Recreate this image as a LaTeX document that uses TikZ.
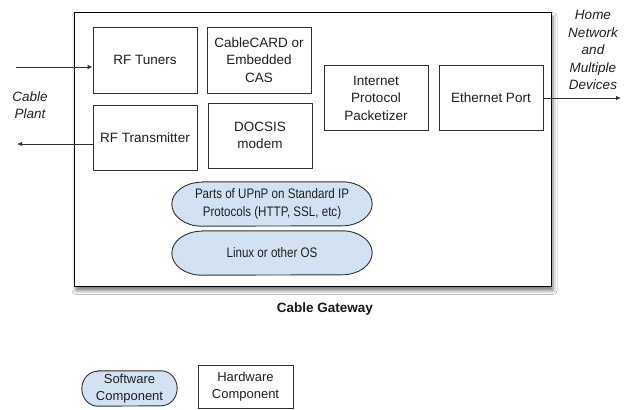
\documentclass[tikz,border=0pt]{standalone}
\usepackage{fontspec}
\setmainfont{Liberation Sans}
\newfontfamily\condsans[FakeStretch=0.84]{Liberation Sans}
\usetikzlibrary{arrows.meta,shadows.blur}
\pgfdeclarelayer{back}
\pgfdeclarelayer{mid}
\pgfsetlayers{back,mid,main}
\definecolor{swfill}{HTML}{D2E2F2}
\definecolor{edge}{HTML}{303030}
\tikzset{
  txt/.style={font=\fontsize{13.5}{17.5}\selectfont, align=center, text=black!88},
  hw/.style={txt, draw=edge, line width=0.9pt, inner sep=0pt},
  sw/.style={font=\condsans\fontsize{13.8}{18}\selectfont, align=center, text=black!88, inner sep=0pt},
  lab/.style={font=\fontsize{13.5}{17.5}\selectfont\itshape, align=center, text=black!88},
  arr/.style={draw=edge, line width=0.9pt, -{Latex[length=5pt,width=4.5pt]}},
}
\newcommand{\swblob}[3]{%
  \begin{pgfonlayer}{mid}
  \draw[draw=edge, line width=0.9pt, fill=swfill]
    ([xshift=#2pt]#1.north west) -- ([xshift=-#2pt]#1.north east)
    arc[start angle=90, end angle=-90, x radius=#2pt, y radius=#3pt]
    -- ([xshift=#2pt]#1.south west)
    arc[start angle=270, end angle=90, x radius=#2pt, y radius=#3pt]
    -- cycle;
  \end{pgfonlayer}}
\begin{document}
\begin{tikzpicture}[x=1pt, y=-1pt]
\useasboundingbox (0,0) rectangle (633,410);

% main gateway box
\begin{pgfonlayer}{back}
\fill[white] (0,0) rectangle (633,410);
\draw[draw=black, line width=0.8pt, fill=white,
      blur shadow={shadow xshift=2pt, shadow yshift=-4.5pt, shadow blur radius=4pt, shadow opacity=55}]
  (74,12) rectangle (551,286);
\end{pgfonlayer}
\node[font=\fontsize{13.5}{15}\selectfont\bfseries, text=black!90] (gw) at (325,309) {Cable Gateway};

% hardware boxes
\node[hw, minimum width=104pt, minimum height=66pt] (tuners) at (145,60) {RF Tuners};
\node[hw, minimum width=104pt, minimum height=66pt] (card) at (259,60) {CableCARD or\\Embedded\\CAS};
\node[hw, minimum width=104pt, minimum height=65pt] (trans) at (145,137.5) {RF Transmitter};
\node[hw, minimum width=104pt, minimum height=65pt] (docsis) at (260,135.5) {DOCSIS\\modem};
\node[hw, minimum width=104pt, minimum height=65pt] (ipp) at (376,98) {Internet\\Protocol\\Packetizer};
\node[hw, minimum width=104pt, minimum height=65pt] (eth) at (491,98) {Ethernet Port};

% software components
\node[sw, minimum width=200pt, minimum height=44pt] (upnp) at (272,204) {Parts of UPnP on Standard IP\\Protocols (HTTP, SSL, etc)};
\swblob{upnp}{30}{22}
\node[sw, minimum width=200pt, minimum height=44pt] (linux) at (272,253) {Linux or other OS};
\swblob{linux}{30}{22}

% outside labels and connectors
\node[lab] (plant) at (30,105) {Cable\\Plant};
\node[lab] (home) at (593,50) {Home\\Network\\and\\Multiple\\Devices};
\coordinate (cin) at (16,67);
\coordinate (cout) at (17,144);
\coordinate (hout) at (621,98);
\draw[arr] (cin) -- (cin -| tuners.west);
\draw[arr] (trans.west |- cout) -- (cout);
\draw[arr] (eth.east) -- (hout);

% legend
\node[sw, font=\fontsize{13}{17}\selectfont, minimum width=95pt, minimum height=35pt] (legsw) at (129.5,388.5) {Software\\Component};
\swblob{legsw}{16}{17.5}
\node[hw, font=\fontsize{13}{17}\selectfont, minimum width=95pt, minimum height=43pt] (leghw) at (245.5,386.5) {Hardware\\Component};
\end{tikzpicture}
\end{document}
